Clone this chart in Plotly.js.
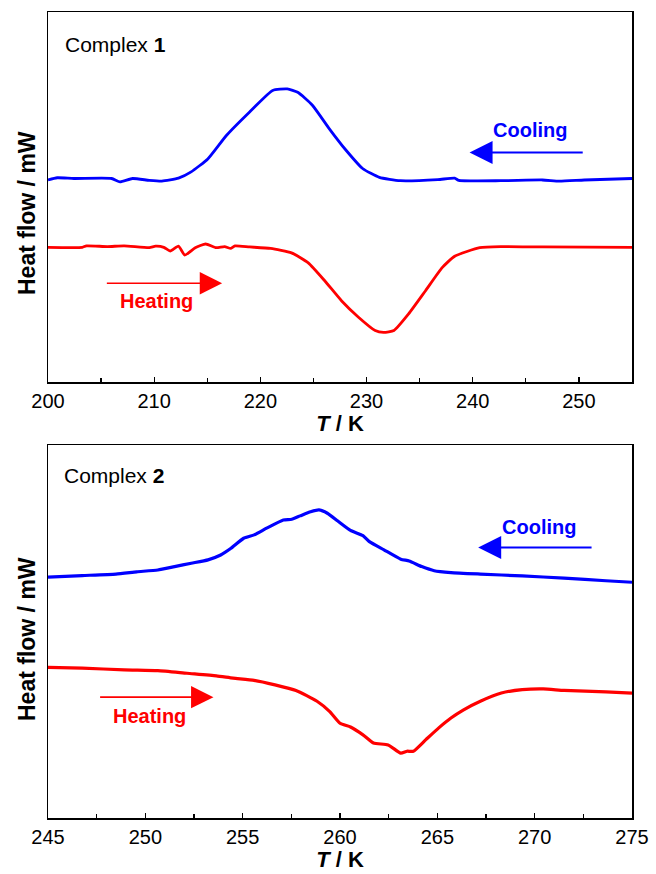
<!DOCTYPE html>
<html>
<head>
<meta charset="utf-8">
<script src="https://cdn.plot.ly/plotly-3.0.1.min.js"></script>
<style>html,body{margin:0;padding:0;background:#fff;}#chart{width:656px;height:874px;}</style>
</head>
<body>
<div id="chart"></div>
<script>
// Complex 1 (top panel) — temperature (K) and heat flow (arbitrary units, offset curves)
const c1CoolT = [200,200.87,202.44,205.99,206.78,207.96,209.54,210.72,212.29,213.48,215.05,216.82,218.99,221.16,222.54,223.52,224.90,226.48,228.05,229.63,231.21,233.18,236.72,238.30,238.69,242.63,246.57,248.15,250.51,255];
const c1CoolHF = [54.6,55.2,55.0,55.0,54.1,55.0,54.5,54.3,55.1,56.8,60.3,66.7,73.0,78.8,79.2,78.3,74.8,68.5,62.7,57.7,55.3,54.4,54.7,55.1,54.5,54.4,54.6,54.3,54.6,55.0];
const c1HeatT = [200,203.23,203.62,205.59,207.17,209.54,210.13,210.91,211.51,212.29,212.88,213.87,214.85,215.84,216.63,217.22,217.61,218.99,220.96,222.93,224.51,226.08,227.66,229.24,230.81,231.60,232.58,233.96,235.54,237.12,238.30,240.66,242.63,246.57,255];
const c1HeatHF = [36.4,36.4,36.8,36.6,36.8,36.3,36.7,36.4,35.4,36.7,34.3,36.3,37.3,36.3,36.6,36.1,36.8,36.5,36.1,34.9,32.2,27.3,21.9,17.5,13.9,13.4,13.9,18.4,24.6,30.9,34.0,36.3,36.6,36.5,36.4];

// Complex 2 (bottom panel)
const c2CoolT = [245,246.76,248.49,249.56,250.64,251.50,252.36,253.22,253.87,254.40,255.05,255.59,256.23,257.09,257.52,257.95,258.49,258.92,259.35,259.89,260.54,261.18,261.51,262.26,263.12,263.55,264.20,264.84,265.70,267.21,269.36,271.51,273.66,275];
const c2CoolHF = [64.6,65.0,65.4,66.0,66.5,67.4,68.3,69.2,70.5,72.3,75.0,75.9,77.7,79.9,80.1,81.0,82.1,82.6,81.7,79.6,77.1,75.7,74.1,71.9,69.4,68.9,67.4,66.3,65.8,65.4,64.9,64.3,63.6,63.2];
const c2HeatT = [245,246.76,248.92,250.64,252.14,253.65,254.51,255.59,256.66,257.74,258.82,259.46,260.00,260.54,261.18,261.72,262.47,263.12,263.44,263.77,264.41,265.06,265.70,266.35,267.21,268.29,269.36,270.44,271.51,273.66,275];
const c2HeatHF = [40.4,40.2,39.7,39.5,38.8,38.1,37.5,36.9,35.7,34.2,31.3,28.6,25.4,24.4,22.3,20.1,19.6,17.4,17.9,17.9,21.0,24.1,26.8,29.0,31.3,33.5,34.4,34.6,34.2,33.8,33.5];

const c1Ticks = [200,210,220,230,240,250];
const c2Ticks = [245,250,255,260,265,270,275];

const FONT = 'Liberation Sans, Arial, sans-serif';
const BLUE = '#0000FF', RED = '#FF0000';

function ln(color, w){ return {color:color, width:w, shape:'spline', smoothing:0.5}; }
const traces = [
  {x:c1CoolT, y:c1CoolHF, xaxis:'x', yaxis:'y', mode:'lines', line:ln(BLUE,2.8), name:'Cooling 1'},
  {x:c1HeatT, y:c1HeatHF, xaxis:'x', yaxis:'y', mode:'lines', line:ln(RED,2.8), name:'Heating 1'},
  {x:c2CoolT, y:c2CoolHF, xaxis:'x2', yaxis:'y2', mode:'lines', line:ln(BLUE,3.2), name:'Cooling 2'},
  {x:c2HeatT, y:c2HeatHF, xaxis:'x2', yaxis:'y2', mode:'lines', line:ln(RED,3.2), name:'Heating 2'}
];

function xAxis(range, ticks, minorD, domainAnchor){
  return {
    range:range, tickvals:ticks, ticktext:ticks.map(String),
    ticks:'inside', ticklen:5, tickwidth:1.2, tickcolor:'#000',
    minor:{dtick:minorD, tick0:range[0], ticks:'inside', ticklen:4, tickwidth:1.2, tickcolor:'#000'},
    showline:true, linecolor:'#000', linewidth:1.5, mirror:true,
    showgrid:false, zeroline:false, anchor:domainAnchor,
    tickfont:{family:FONT, size:20, color:'#000'},
    title:{text:'<b><i>T</i> / K</b>', font:{family:FONT, size:22, color:'#000'}, standoff:4}
  };
}
function yAxis(domain, anchor){
  return {
    domain:domain, range:[0,100], showticklabels:false, ticks:'',
    showline:true, linecolor:'#000', linewidth:1.5, mirror:true,
    showgrid:false, zeroline:false, anchor:anchor, fixedrange:true
  };
}

const ann = [];
function txt(xref, yref, x, y, text, color, size, xanchor){
  ann.push({xref:xref, yref:yref, x:x, y:y, text:text, showarrow:false, xanchor:xanchor||'center', yanchor:'middle',
    font:{family:FONT, size:size, color:color}});
}
function arrow(xref, yref, x0, x1, y, color, w, s){
  ann.push({xref:xref, yref:yref, axref:xref, ayref:yref, x:x1, y:y, ax:x0, ay:y, text:'', showarrow:true,
    arrowhead:2, arrowsize:s, arrowwidth:w, arrowcolor:color});
}
// top panel
txt('x','y',201.4,91.3,'Complex <b>1</b>','#000',21,'left');
txt('x','y',245.4,68.0,'<b>Cooling</b>',BLUE,20);
arrow('x','y',250.5,239.7,62.0,BLUE,2,2.3);
arrow('x','y',205.4,216.4,26.7,RED,1.6,2.8);
txt('x','y',210.2,21.8,'<b>Heating</b>',RED,20);
// bottom panel
txt('x2','y2',245.7,91.7,'Complex <b>2</b>','#000',21,'left');
txt('x2','y2',270.2,77.9,'<b>Cooling</b>',BLUE,20);
arrow('x2','y2',273.0,267.1,72.5,BLUE,2,2.3);
arrow('x2','y2',247.6,253.5,32.4,RED,1.6,2.8);
txt('x2','y2',250.2,27.4,'<b>Heating</b>',RED,20);
// y-axis titles
ann.push({xref:'paper', yref:'paper', x:-21/584, y:(818-213)/806, text:'<b>Heat flow / mW</b>', textangle:-90,
  showarrow:false, xanchor:'center', yanchor:'middle', font:{family:FONT, size:23, color:'#000'}});
ann.push({xref:'paper', yref:'paper', x:-21/584, y:(818-639)/806, text:'<b>Heat flow / mW</b>', textangle:-90,
  showarrow:false, xanchor:'center', yanchor:'middle', font:{family:FONT, size:23, color:'#000'}});

const layout = {
  width:656, height:874,
  margin:{l:48, r:24, t:12, b:56},
  paper_bgcolor:'#fff', plot_bgcolor:'#fff',
  showlegend:false,
  xaxis: xAxis([200,255], c1Ticks, 5, 'y'),
  yaxis: yAxis([(818-382)/806, 1], 'x'),
  xaxis2: xAxis([245,275], c2Ticks, 2.5, 'y2'),
  yaxis2: yAxis([0, (818-445)/806], 'x2'),
  annotations: ann,
  font:{family:FONT}
};

Plotly.newPlot('chart', traces, layout, {displayModeBar:false, staticPlot:true});
</script>
</body>
</html>
